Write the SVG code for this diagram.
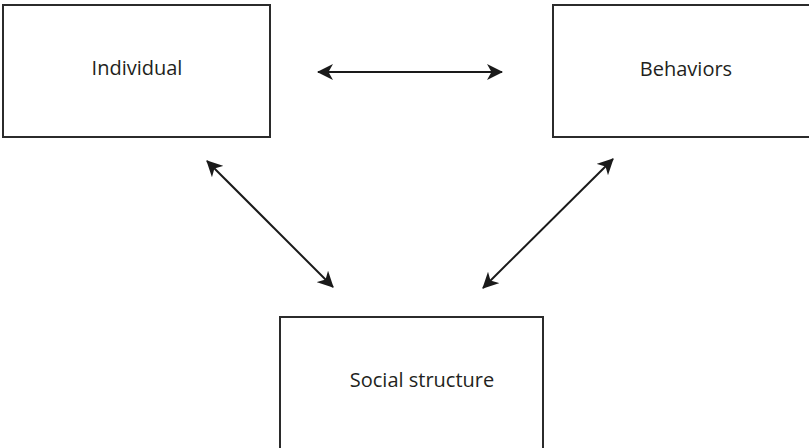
<svg xmlns="http://www.w3.org/2000/svg" width="809" height="448" viewBox="0 0 809 448">
  <style>
    .box { fill: #ffffff; stroke: #2b2b2b; stroke-width: 2; }
    .label { font-family: "Open Sans", "Liberation Sans", sans-serif; font-size: 20px; fill: #231f20; }
    .conn { stroke: #1a1a1a; stroke-width: 2; fill: none; marker-start: url(#head); marker-end: url(#head); }
  </style>
  <defs>
    <marker id="head" viewBox="0 0 16 16" refX="15" refY="8" markerWidth="16" markerHeight="16" markerUnits="userSpaceOnUse" orient="auto-start-reverse">
      <path d="M0,0 L16,8 L0,16 L4.5,8 Z" fill="#1a1a1a"/>
    </marker>
  </defs>
  <rect width="809" height="448" fill="#ffffff"/>

  <g id="individual">
    <rect class="box" x="3" y="5" width="267" height="132"/>
    <text class="label" x="137" y="75" text-anchor="middle">Individual</text>
  </g>

  <g id="behaviors">
    <rect class="box" x="553" y="5" width="267" height="132"/>
    <text class="label" x="686" y="76" text-anchor="middle">Behaviors</text>
  </g>

  <g id="social-structure">
    <rect class="box" x="280" y="317" width="263" height="140"/>
    <text class="label" x="422" y="387" text-anchor="middle">Social structure</text>
  </g>

  <g id="connectors">
    <line class="conn" x1="318" y1="72" x2="502" y2="72"/>
    <line class="conn" x1="207" y1="161" x2="333" y2="287"/>
    <line class="conn" x1="613" y1="159" x2="483" y2="288"/>
  </g>
</svg>
